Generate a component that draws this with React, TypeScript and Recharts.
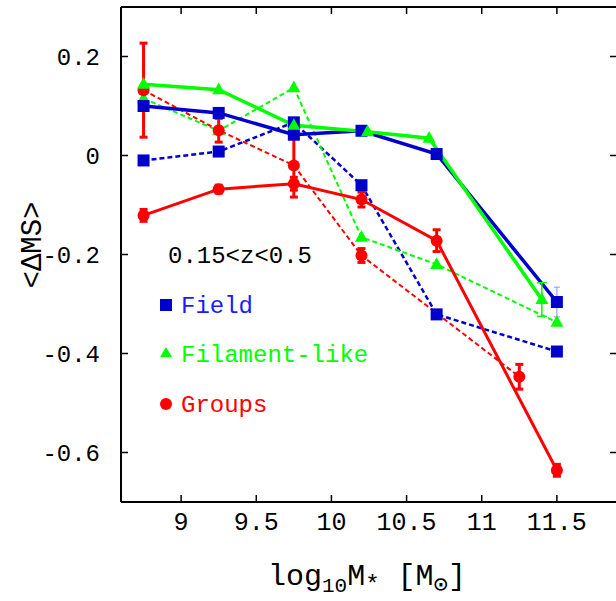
import React from 'react';
import { LineChart, Line, XAxis, YAxis, ErrorBar } from 'recharts';

const FONT = "'Liberation Mono', 'DejaVu Sans Mono', monospace";
const BLUE = '#0000cc';
const GREEN = '#00ff00';
const RED = '#ff0000';

const xTicks = [9, 9.5, 10, 10.5, 11, 11.5];
const yTicks = [-0.6, -0.4, -0.2, 0, 0.2];

// Field
const fieldMass = [8.75, 9.25, 9.75, 10.2, 10.7, 11.5];
const fieldSolid = [0.1, 0.086, 0.042, 0.05, 0.003, -0.296];
const fieldSolidErr = [0, 0, 0, 0, 0, 0.03];
const fieldDashed = [-0.01, 0.008, 0.067, -0.06, -0.321, -0.396];

// Filament-like
const filSolidMass = [8.75, 9.25, 9.75, 10.24, 10.65, 11.4];
const filSolid = [0.144, 0.133, 0.061, 0.048, 0.035, -0.291];
const filSolidErr = [0, 0, 0, 0, 0, 0.034];
const filDashedMass = [8.75, 9.25, 9.75, 10.2, 10.7, 11.5];
const filDashed = [0.115, 0.05, 0.137, -0.165, -0.22, -0.337];

// Groups
const grpSolidMass = [8.75, 9.25, 9.75, 10.2, 10.7, 11.5];
const grpSolid = [-0.121, -0.068, -0.057, -0.089, -0.172, -0.636];
const grpSolidErr = [0.012, 0.008, 0.013, 0.015, 0.022, 0.012];
const grpDashedMass = [8.75, 9.25, 9.75, 10.2, 11.25];
const grpDashed = [0.132, 0.051, -0.02, -0.202, -0.447];
const grpDashedErr = [0.095, 0.024, 0.064, 0.014, 0.025];

const rows = (xs: number[], ys: number[], errs?: number[]) =>
  xs.map((x, i) => ({ x, y: ys[i], err: errs ? errs[i] : 0 }));

const square = (color: string, s = 12) => (p: any) => (
  <rect key={`sq-${p.index}`} x={p.cx - s / 2} y={p.cy - s / 2} width={s} height={s} fill={color} />
);
const triangle = (color: string, s = 13) => (p: any) => (
  <polygon
    key={`tr-${p.index}`}
    points={`${p.cx},${p.cy - s * 0.55} ${p.cx - s / 2},${p.cy + s * 0.35} ${p.cx + s / 2},${p.cy + s * 0.35}`}
    fill={color}
  />
);
const circle = (color: string, r = 6) => (p: any) => (
  <circle key={`ci-${p.index}`} cx={p.cx} cy={p.cy} r={r} fill={color} />
);

const axisLine = { stroke: '#000', strokeWidth: 2 };
const tickLine = { stroke: '#000', strokeWidth: 1.5 };
const blank = () => '';

export default function App() {
  return (
    <div style={{ position: 'absolute', left: 0, top: 0, width: 616, height: 601, overflow: 'hidden', background: '#fff' }}>
      <LineChart width={619} height={601} margin={{ top: 6, right: 1, bottom: 0, left: 0 }}>
        <XAxis
          dataKey="x"
          type="number"
          domain={[8.6, 11.9]}
          allowDataOverflow
          ticks={xTicks}
          height={99}
          axisLine={axisLine}
          tickLine={tickLine}
          tickSize={-7}
          tickMargin={17}
          tick={{ fill: '#000', fontSize: 25, fontFamily: FONT }}
        />
        <XAxis
          xAxisId="top"
          orientation="top"
          dataKey="x"
          type="number"
          domain={[8.6, 11.9]}
          allowDataOverflow
          ticks={xTicks}
          height={1}
          axisLine={axisLine}
          tickLine={tickLine}
          tickSize={-7}
          tickFormatter={blank}
        />
        <YAxis
          type="number"
          domain={[-0.7, 0.3]}
          allowDataOverflow
          ticks={yTicks}
          width={121}
          axisLine={axisLine}
          tickLine={tickLine}
          tickSize={-7}
          tickMargin={28}
          tick={{ fill: '#000', fontSize: 24, fontFamily: FONT }}
        />
        <YAxis
          yAxisId="right"
          orientation="right"
          type="number"
          domain={[-0.7, 0.3]}
          allowDataOverflow
          ticks={yTicks}
          width={1}
          axisLine={axisLine}
          tickLine={tickLine}
          tickSize={-7}
          tickFormatter={blank}
        />

        <Line data={rows(fieldMass, fieldDashed)} dataKey="y" stroke={BLUE} strokeWidth={2.5}
          strokeDasharray="5 3" dot={square(BLUE)} activeDot={false} isAnimationActive={false} />
        <Line data={rows(filDashedMass, filDashed)} dataKey="y" stroke={GREEN} strokeWidth={2}
          strokeDasharray="5 3" dot={triangle(GREEN)} activeDot={false} isAnimationActive={false} />
        <Line data={rows(grpDashedMass, grpDashed, grpDashedErr)} dataKey="y" stroke={RED} strokeWidth={2}
          strokeDasharray="5 3" dot={circle(RED)} activeDot={false} isAnimationActive={false}>
          <ErrorBar dataKey="err" stroke={RED} strokeWidth={3} width={4} />
        </Line>
        <Line data={rows(fieldMass, fieldSolid, fieldSolidErr)} dataKey="y" stroke={BLUE} strokeWidth={3.5}
          dot={square(BLUE)} activeDot={false} isAnimationActive={false}>
          <ErrorBar dataKey="err" stroke="#8c8cff" strokeWidth={1} width={3} />
        </Line>
        <Line data={rows(filSolidMass, filSolid, filSolidErr)} dataKey="y" stroke={GREEN} strokeWidth={3.5}
          dot={triangle(GREEN)} activeDot={false} isAnimationActive={false}>
          <ErrorBar dataKey="err" stroke={GREEN} strokeWidth={1.5} width={5} />
        </Line>
        <Line data={rows(grpSolidMass, grpSolid, grpSolidErr)} dataKey="y" stroke={RED} strokeWidth={3}
          dot={circle(RED)} activeDot={false} isAnimationActive={false}>
          <ErrorBar dataKey="err" stroke={RED} strokeWidth={3} width={4} />
        </Line>
      </LineChart>

      <svg width={616} height={601} style={{ position: 'absolute', left: 0, top: 0, pointerEvents: 'none' }} fontFamily={FONT}>
        <text x={168} y={263} fontSize={24} fill="#000">0.15&lt;z&lt;0.5</text>
        <rect x={160} y={299} width={12} height={12} fill={BLUE} />
        <text x={181} y={313} fontSize={24} fill="#1a1aff">Field</text>
        <polygon points="166,347 160,357 172,357" fill={GREEN} />
        <text x={181} y={362} fontSize={24} fill={GREEN}>Filament-like</text>
        <circle cx={166} cy={404} r={6} fill={RED} />
        <text x={181} y={412} fontSize={24} fill={RED}>Groups</text>
        <text transform="translate(41,245) rotate(-90)" textAnchor="middle" fontSize={29} fill="#000">&lt;ΔMS&gt;</text>
        <text x={367} y={585} textAnchor="middle" fontSize={30} fill="#000">
          log<tspan fontSize={21} dy={7}>10</tspan>
          <tspan dy={-7}>M</tspan>
          <tspan fontSize={24} dy={7}>*</tspan>
          <tspan dy={-7}> [M</tspan>
          <tspan fontSize={24} dy={7}>⊙</tspan>
          <tspan dy={-7}>]</tspan>
        </text>
      </svg>
    </div>
  );
}
